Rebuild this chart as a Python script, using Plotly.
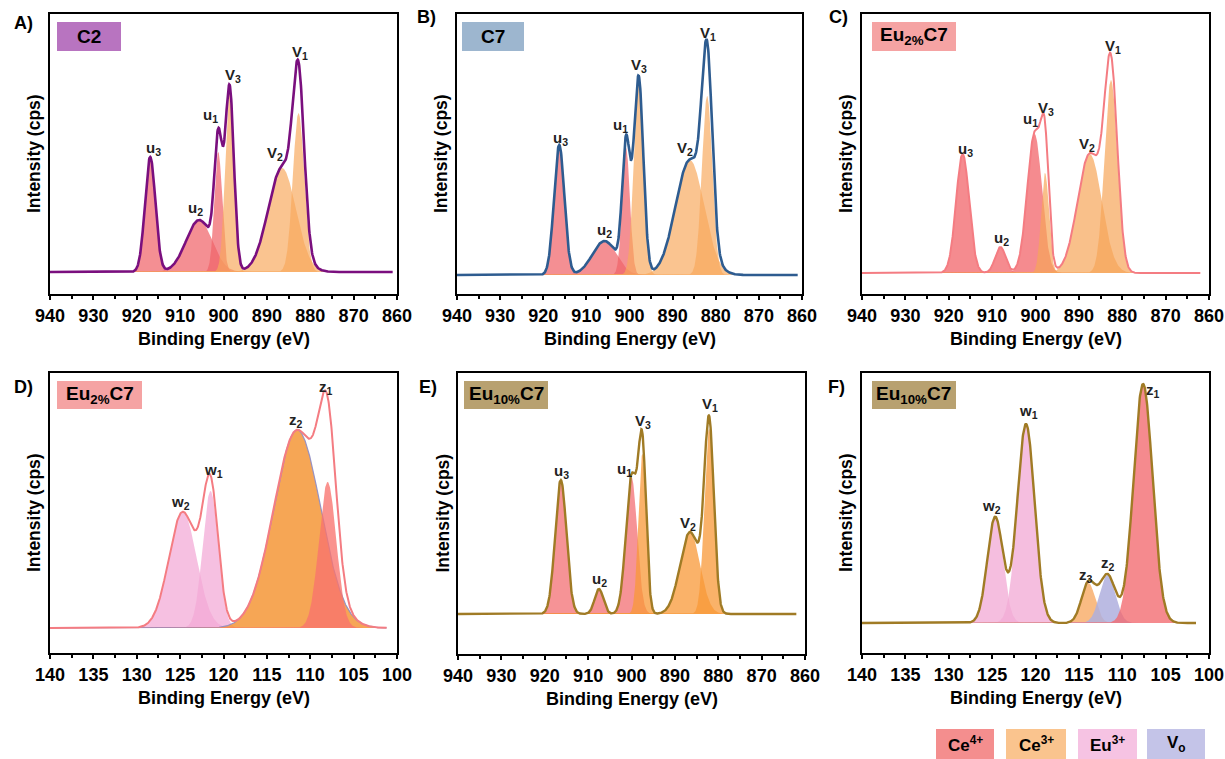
import numpy as np
import plotly.graph_objects as go

W, H = 1225, 759
FONT = "Liberation Sans, Arial, sans-serif"

# ---------------- data (peak fits) ----------------
# Ce 3d panels: binding energy (eV), peak height (a.u.), width sigma (eV)
A_centers = [916.9, 905.6, 901.2, 898.6, 886.5, 882.7]
A_heights = [115, 52, 120, 182, 104, 159]
A_sigmas = [1.2, 3.0, 0.9, 1.0, 3.2, 1.3]
A_states = ["Ce4+", "Ce4+", "Ce4+", "Ce3+", "Ce3+", "Ce3+"]

B_centers = [916.3, 905.8, 900.8, 897.9, 886.0, 882.0]
B_heights = [130, 34, 127, 198, 115, 179]
B_sigmas = [1.2, 2.8, 0.9, 1.1, 3.3, 1.2]
B_states = ["Ce4+", "Ce4+", "Ce4+", "Ce3+", "Ce3+", "Ce3+"]

C_centers = [916.8, 908.1, 900.2, 897.8, 887.5, 882.6]
C_heights = [119, 26, 139, 100, 119, 193]
C_sigmas = [1.5, 1.2, 1.7, 0.9, 2.8, 1.5]
C_states = ["Ce4+", "Ce4+", "Ce4+", "Ce3+", "Ce3+", "Ce3+"]

E_centers = [916.3, 907.5, 900.0, 897.5, 886.5, 882.1]
E_heights = [134, 25, 137, 160, 82, 185]
E_sigmas = [1.3, 1.0, 1.3, 0.9, 2.3, 1.1]
E_states = ["Ce4+", "Ce4+", "Ce4+", "Ce3+", "Ce3+", "Ce3+"]

ce_labels = ["u<sub>3</sub>", "u<sub>2</sub>", "u<sub>1</sub>",
             "V<sub>3</sub>", "V<sub>2</sub>", "V<sub>1</sub>"]
A_label_x = [916.2, 906.5, 902.9, 897.8, 888.1, 882.3]
A_label_y = [124, 64, 157, 197, 119, 220]
B_label_x = [916.1, 905.7, 902.0, 897.7, 887.1, 881.8]
B_label_y = [137, 45, 150, 210, 127, 242]
C_label_x = [916.1, 907.8, 901.2, 897.6, 888.1, 882.2]
C_label_y = [124, 35, 154, 165, 129, 227]
E_label_x = [916.2, 907.3, 901.5, 897.3, 886.9, 881.9]
E_label_y = [143, 35, 145, 193, 91, 210]

# Eu 4d / Ce 4s panels
D_centers = [124.7, 121.5, 111.5, 108.0]
D_heights = [116, 137, 198, 146]
D_sigmas = [1.6, 0.9, 2.7, 1.0]
D_states = ["Eu3+", "Eu3+", "Ce3+", "Ce4+"]
D_labels = ["w<sub>2</sub>", "w<sub>1</sub>", "z<sub>2</sub>", "z<sub>1</sub>"]
D_label_x = [125.0, 121.2, 111.7, 108.2]
D_label_y = [126, 158, 208, 241]

F_centers = [124.65, 121.1, 113.9, 111.7, 107.6]
F_heights = [106, 199, 40, 48, 239]
F_sigmas = [0.9, 1.0, 0.8, 0.9, 1.1]
F_states = ["Eu3+", "Eu3+", "Ce3+", "Vo", "Ce4+"]
F_labels = ["w<sub>2</sub>", "w<sub>1</sub>", "z<sub>3</sub>", "z<sub>2</sub>", "z<sub>1</sub>"]
F_label_x = [125.1, 120.85, 114.2, 111.7, 106.4]
F_label_y = [117, 212, 48, 60, 233]

legend_names = ["Ce<sup>4+</sup>", "Ce<sup>3+</sup>", "Eu<sup>3+</sup>", "V<sub>o</sub>"]
legend_colors = ["#F48E8E", "#FAC48E", "#F6C3E3", "#C4C4E8"]

# ---------------- styling ----------------
fill_std = {"Ce4+": "rgba(240,100,105,0.72)", "Ce3+": "rgba(247,168,92,0.68)",
            "Eu3+": "rgba(242,168,212,0.7)", "Vo": "rgba(170,170,220,0.8)"}
fill_C = {"Ce4+": "rgba(242,100,105,0.75)", "Ce3+": "rgba(247,165,88,0.7)"}
fill_D = {"Eu3+": "rgba(242,168,214,0.72)", "Ce3+": "rgba(245,150,55,0.85)",
          "Ce4+": "rgba(248,115,110,0.78)"}
fill_E = {"Ce4+": "rgba(242,105,110,0.72)", "Ce3+": "rgba(248,152,55,0.75)"}
fill_F = {"Eu3+": "rgba(242,172,214,0.78)", "Ce3+": "rgba(247,170,100,0.8)",
          "Vo": "rgba(175,175,222,0.85)", "Ce4+": "rgba(242,105,110,0.78)"}

panels = [
    dict(letter="A)", name="C2", box="#B874C0", line="#7A0F7E", lw=2.6,
         c=A_centers, h=A_heights, s=A_sigmas, st=A_states, fills=fill_std,
         labels=ce_labels, lx=A_label_x, ly=A_label_y,
         px=(50, 397), py=(14, 294), xr=(940, 860), span=(940, 861), yr=(-22, 258),
         boxpx=(57, 121, 22, 51), letpos=(23, 23), major=10),
    dict(letter="B)", name="C7", box="#9DB6CF", line="#2E5C90", lw=2.6,
         c=B_centers, h=B_heights, s=B_sigmas, st=B_states, fills=fill_std,
         labels=ce_labels, lx=B_label_x, ly=B_label_y,
         px=(457, 802), py=(14, 294), xr=(940, 860), span=(940, 861), yr=(-19, 261),
         boxpx=(462, 524, 22, 51), letpos=(426, 17), major=10),
    dict(letter="C)", name="Eu<sub>2%</sub>C7", box="#F5A3A3", line="#F47C82", lw=2.0,
         c=C_centers, h=C_heights, s=C_sigmas, st=C_states, fills=fill_C,
         labels=ce_labels, lx=C_label_x, ly=C_label_y,
         px=(862, 1209), py=(14, 294), xr=(940, 860), span=(940, 862), yr=(-21, 259),
         boxpx=(872, 956, 22, 51), letpos=(838, 17), major=10),
    dict(letter="D)", name="Eu<sub>2%</sub>C7", box="#F5A3A3", line="#F47C82", lw=2.0,
         c=D_centers, h=D_heights, s=D_sigmas, st=D_states, fills=fill_D,
         labels=D_labels, lx=D_label_x, ly=D_label_y,
         px=(50, 397), py=(373, 653), xr=(140, 100), span=(140, 101.2), yr=(-25, 255),
         boxpx=(57, 142, 381, 409), letpos=(23, 387), major=5),
    dict(letter="E)", name="Eu<sub>10%</sub>C7", box="#B8A170", line="#A07B25", lw=2.4,
         c=E_centers, h=E_heights, s=E_sigmas, st=E_states, fills=fill_E,
         labels=ce_labels, lx=E_label_x, ly=E_label_y,
         px=(458, 805), py=(373, 654), xr=(940, 860), span=(940, 862), yr=(-40, 241),
         boxpx=(464, 548, 381, 409), letpos=(428, 387), major=10),
    dict(letter="F)", name="Eu<sub>10%</sub>C7", box="#B8A170", line="#A07B25", lw=2.4,
         c=F_centers, h=F_heights, s=F_sigmas, st=F_states, fills=fill_F,
         labels=F_labels, lx=F_label_x, ly=F_label_y,
         px=(862, 1209), py=(373, 653), xr=(140, 100), span=(140, 101.5), yr=(-30, 250),
         boxpx=(872, 956, 381, 409), letpos=(836, 387), major=5),
]


def fx(x):
    return x / W


def fy(y):
    return 1 - y / H


fig = go.Figure()
layout = {}
annotations = []
shapes = []

for i, p in enumerate(panels):
    sfx = "" if i == 0 else str(i + 1)
    xa, ya = "x" + sfx, "y" + sfx
    E = np.linspace(p["span"][0], p["span"][1], 1200)
    total = np.zeros_like(E)
    for c, h, s, st in zip(p["c"], p["h"], p["s"], p["st"]):
        g = h * np.exp(-(E - c) ** 2 / (2 * s * s))
        total += g
        edge = dict(width=0, color="rgba(0,0,0,0)")
        if p["letter"] == "D)" and st == "Ce3+":
            edge = dict(width=1.2, color="rgba(140,140,200,0.9)")
        fig.add_trace(go.Scatter(x=E, y=g, mode="lines", line=edge, fill="tozeroy",
                                 fillcolor=p["fills"][st], xaxis=xa, yaxis=ya,
                                 showlegend=False, hoverinfo="skip"))
    fig.add_trace(go.Scatter(x=E, y=total, mode="lines",
                             line=dict(color=p["line"], width=p["lw"]),
                             xaxis=xa, yaxis=ya, showlegend=False, hoverinfo="skip"))

    major = p["major"]
    layout["xaxis" + sfx] = dict(
        domain=[fx(p["px"][0]), fx(p["px"][1])], range=list(p["xr"]), anchor=ya,
        automargin=False,
        showline=True, mirror=True, linecolor="black", linewidth=2,
        ticks="outside", ticklen=4, tickwidth=1.5, tickcolor="black",
        tick0=p["xr"][1], dtick=major,
        minor=dict(ticks="outside", ticklen=3, tickwidth=1.5, tickcolor="black",
                   dtick=major / 2),
        tickfont=dict(family=FONT, size=18, color="black", weight="bold"),
        showgrid=False, zeroline=False, fixedrange=True)
    layout["yaxis" + sfx] = dict(
        domain=[fy(p["py"][1]), fy(p["py"][0])], range=list(p["yr"]), anchor=xa,
        automargin=False,
        showline=True, mirror=True, linecolor="black", linewidth=2,
        ticks="", showticklabels=False, showgrid=False, zeroline=False, fixedrange=True)

    # peak labels
    for t, lx, ly in zip(p["labels"], p["lx"], p["ly"]):
        annotations.append(dict(x=lx, y=ly, xref=xa, yref=ya, text=t, showarrow=False,
                                font=dict(family=FONT, size=15, color="#222222", weight="bold"),
                                xanchor="center", yanchor="middle"))
    # sample box
    x0, x1, y0, y1 = p["boxpx"]
    shapes.append(dict(type="rect", xref="paper", yref="paper",
                       x0=fx(x0), x1=fx(x1), y0=fy(y1), y1=fy(y0),
                       fillcolor=p["box"], line=dict(width=0), layer="above"))
    annotations.append(dict(x=fx((x0 + x1) / 2), y=fy((y0 + y1) / 2), xref="paper", yref="paper",
                            text=p["name"], showarrow=False,
                            font=dict(family=FONT, size=19, color="black", weight="bold"),
                            xanchor="center", yanchor="middle"))
    # panel letter
    annotations.append(dict(x=fx(p["letpos"][0]), y=fy(p["letpos"][1]), xref="paper", yref="paper",
                            text=p["letter"], showarrow=False,
                            font=dict(family=FONT, size=18, color="black", weight="bold"),
                            xanchor="center", yanchor="middle"))
    # axis titles
    xmid = (p["px"][0] + p["px"][1]) / 2
    ymid = (p["py"][0] + p["py"][1]) / 2
    annotations.append(dict(x=fx(xmid), y=fy(p["py"][1] + 45), xref="paper", yref="paper",
                            text="Binding Energy (eV)", showarrow=False,
                            font=dict(family=FONT, size=18, color="black", weight="bold"),
                            xanchor="center", yanchor="middle"))
    annotations.append(dict(x=fx(p["px"][0] - 16), y=fy(ymid), xref="paper", yref="paper",
                            text="Intensity (cps)", showarrow=False, textangle=-90,
                            font=dict(family=FONT, size=17.5, color="black", weight="bold"),
                            xanchor="center", yanchor="middle"))

# legend boxes
leg_x = [(936, 994), (1006, 1066), (1078, 1137), (1147, 1205)]
for (x0, x1), name, col in zip(leg_x, legend_names, legend_colors):
    shapes.append(dict(type="rect", xref="paper", yref="paper",
                       x0=fx(x0), x1=fx(x1), y0=fy(759), y1=fy(729),
                       fillcolor=col, line=dict(width=0)))
    annotations.append(dict(x=fx((x0 + x1) / 2), y=fy(744), xref="paper", yref="paper",
                            text=name, showarrow=False,
                            font=dict(family=FONT, size=17, color="black", weight="bold"),
                            xanchor="center", yanchor="middle"))

fig.update_layout(width=W, height=H, margin=dict(l=0, r=0, t=0, b=0),
                  paper_bgcolor="white", plot_bgcolor="white",
                  annotations=annotations, shapes=shapes, **layout)

fig.write_html("out.html")
